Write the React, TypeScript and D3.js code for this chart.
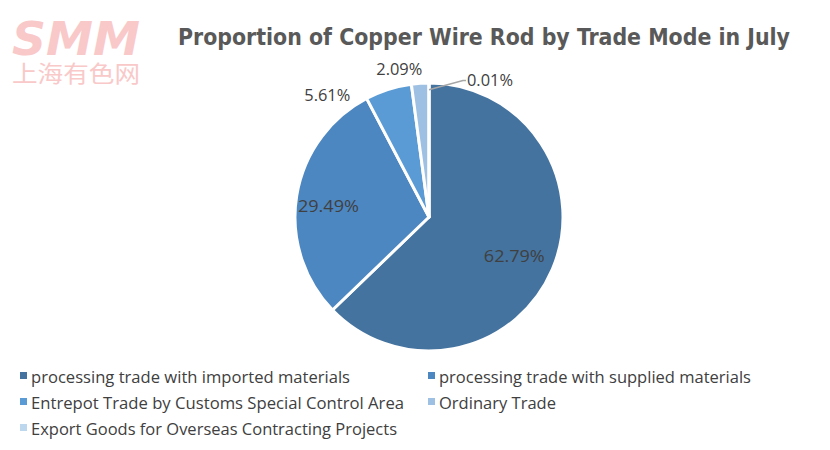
import React, { useEffect, useRef } from 'react';
import * as d3 from 'd3';

const categories = [
  'processing trade with imported materials',
  'processing trade with supplied materials',
  'Entrepot Trade by Customs Special Control Area',
  'Ordinary Trade',
  'Export Goods for Overseas Contracting Projects',
];
const shares = [62.79, 29.49, 5.61, 2.09, 0.01];
const labels = ['62.79%', '29.49%', '5.61%', '2.09%', '0.01%'];
const colors = ['#44739f', '#4d87c1', '#5b9bd5', '#9dc0e3', '#bdd7ee'];

const width = 830;
const height = 450;

const App: React.FC = () => {
  const svgRef = useRef<SVGSVGElement | null>(null);

  useEffect(() => {
    if (!svgRef.current) return;
    const svg = d3.select(svgRef.current);
    svg.selectAll('*').remove();

    svg.append('rect').attr('width', width).attr('height', height).attr('fill', '#ffffff');

    // watermark logo
    const logo = svg.append('g').attr('fill', '#f9c9c9');
    logo
      .append('text')
      .attr('x', 12)
      .attr('y', 55)
      .attr('font-family', '"DejaVu Sans", sans-serif')
      .attr('font-weight', 'bold')
      .attr('font-style', 'italic')
      .attr('font-size', 46)
      .attr('textLength', 128)
      .attr('lengthAdjust', 'spacingAndGlyphs')
      .text('SMM');
    logo
      .append('text')
      .attr('x', 12)
      .attr('y', 82)
      .attr('font-family', '"Noto Sans CJK SC", sans-serif')
      .attr('font-size', 23)
      .attr('textLength', 128)
      .attr('lengthAdjust', 'spacingAndGlyphs')
      .text('上海有色网');

    // title
    svg
      .append('text')
      .attr('x', 178)
      .attr('y', 45)
      .attr('font-family', '"DejaVu Sans Condensed", "DejaVu Sans", sans-serif')
      .attr('font-weight', 'bold')
      .attr('font-size', 23)
      .attr('fill', '#595959')
      .attr('textLength', 612)
      .attr('lengthAdjust', 'spacingAndGlyphs')
      .text('Proportion of Copper Wire Rod by Trade Mode in July');

    const cx = 429;
    const cy = 217;
    const r = 134;

    const pie = d3
      .pie<number>()
      .sort(null)
      .value((d) => d);
    const arcs = pie(shares);
    const arc = d3.arc<d3.PieArcDatum<number>>().innerRadius(0).outerRadius(r);

    const g = svg.append('g').attr('transform', `translate(${cx},${cy})`);
    g.selectAll('path')
      .data(arcs)
      .enter()
      .append('path')
      .attr('d', arc)
      .attr('fill', (_, i) => colors[i])
      .attr('stroke', '#ffffff')
      .attr('stroke-width', 3)
      .attr('stroke-linejoin', 'round');

    // data labels
    const inner = d3.arc<d3.PieArcDatum<number>>().innerRadius(0).outerRadius(r * 1.4);
    const outer = d3.arc<d3.PieArcDatum<number>>().innerRadius(r * 1.1).outerRadius(r * 1.1);
    const nudge: [number, number][] = [
      [-1, 2],
      [-8, 3],
      [-57, 18],
      [-20, -1],
      [38, 10],
    ];
    arcs.forEach((a, i) => {
      const c = i < 2 ? inner.centroid(a) : outer.centroid(a);
      const x = c[0] + nudge[i][0];
      const y = c[1] + nudge[i][1];
      g.append('text')
        .attr('x', x)
        .attr('y', y)
        .attr('text-anchor', i === 4 ? 'start' : 'middle')
        .attr('dominant-baseline', 'central')
        .attr('font-family', '"Open Sans", sans-serif')
        .attr('font-size', 16.5)
        .attr('fill', '#404040')
        .attr('textLength', labels[i].length === 6 ? 61 : 46)
        .attr('lengthAdjust', 'spacingAndGlyphs')
        .text(labels[i]);
      if (i === 4) {
        const edge = d3
          .arc<d3.PieArcDatum<number>>()
          .innerRadius(r * 0.95)
          .outerRadius(r * 0.95)
          .centroid(a);
        g.append('polyline')
          .attr('points', `${edge[0]},${edge[1]} ${x - 4},${y + 1} ${x - 1},${y + 1}`)
          .attr('fill', 'none')
          .attr('stroke', '#a6a6a6')
          .attr('stroke-width', 1.5);
      }
    });

    // legend
    const legendX = [20, 428];
    const legendY = [376, 402, 428];
    const legendW = [319, 312, 373, 117, 366];
    categories.forEach((name, i) => {
      const col = i % 2;
      const row = Math.floor(i / 2);
      const lg = svg.append('g').attr('transform', `translate(${legendX[col]},${legendY[row]})`);
      lg.append('rect').attr('x', 0).attr('y', -4).attr('width', 7).attr('height', 7).attr('fill', colors[i]);
      lg.append('text')
        .attr('x', 11)
        .attr('y', 0)
        .attr('dominant-baseline', 'central')
        .attr('font-family', '"Open Sans", sans-serif')
        .attr('font-size', 16.5)
        .attr('fill', '#404040')
        .attr('textLength', legendW[i])
        .attr('lengthAdjust', 'spacingAndGlyphs')
        .text(name);
    });
  }, []);

  return <svg ref={svgRef} width={width} height={height} style={{ display: 'block', margin: -8 }} />;
};

export default App;
